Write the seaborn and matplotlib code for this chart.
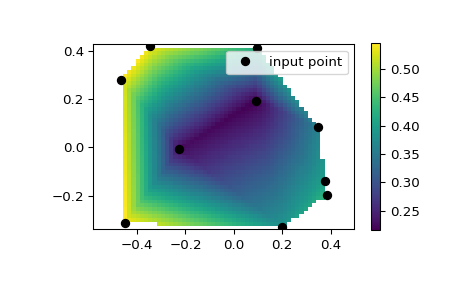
import numpy as np
import matplotlib
matplotlib.use("Agg")
import matplotlib.pyplot as plt
import matplotlib.tri as mtri
import seaborn as sns

# input points
px = [-0.348, 0.097, -0.467, 0.092, 0.349, -0.225, 0.378, 0.384, -0.451, 0.201]
py = [0.420, 0.412, 0.277, 0.194, 0.083, -0.007, -0.137, -0.197, -0.312, -0.331]
pz = [0.545, 0.423, 0.543, 0.215, 0.359, 0.225, 0.402, 0.432, 0.548, 0.387]
label = "input point"
cbar_ticks = [0.25, 0.30, 0.35, 0.40, 0.45, 0.50]

DPI = 96
fig = plt.figure(figsize=(465 / DPI, 288 / DPI), dpi=DPI)
ax = fig.add_axes([93.3 / 465, 1 - 229.3 / 288, 261 / 465, 185.3 / 288])
cax = fig.add_axes([370.7 / 465, 1 - 230 / 288, 9.6 / 465, 186.7 / 288])

xa = np.array(px)
ya = np.array(py)
gx = np.linspace(xa.min(), xa.max())
gy = np.linspace(ya.min(), ya.max())
GX, GY = np.meshgrid(gx, gy)
tri = mtri.Triangulation(xa, ya)
interp = mtri.LinearTriInterpolator(tri, np.array(pz))
GZ = interp(GX, GY)

mesh = ax.pcolormesh(GX, GY, GZ, shading="auto", cmap="viridis")
sns.lineplot(x=px, y=py, sort=False, estimator=None, linestyle="", marker="o",
             markersize=6, color="k", markeredgecolor="k", markeredgewidth=1,
             label=label, ax=ax, zorder=3)
ax.legend(loc="upper right")
cb = fig.colorbar(mesh, cax=cax)
cb.set_ticks(cbar_ticks)
ax.axis("equal")

fig.savefig("out.png", dpi=DPI)
